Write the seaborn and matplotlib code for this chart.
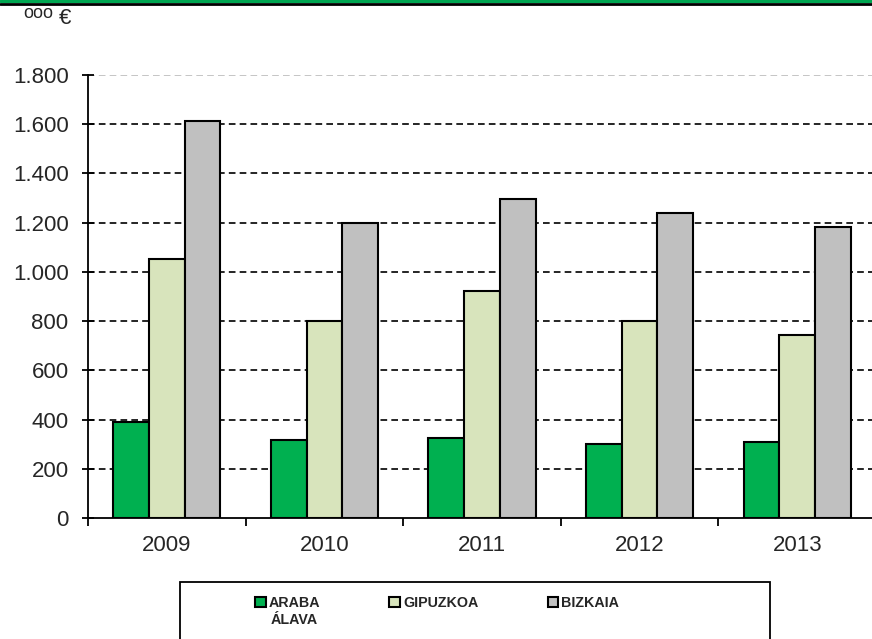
import matplotlib
matplotlib.use("Agg")
import matplotlib.pyplot as plt
import seaborn as sns
import pandas as pd
from matplotlib.ticker import FuncFormatter, FixedLocator
from matplotlib.patches import Rectangle
from matplotlib.lines import Line2D

years = ["2009", "2010", "2011", "2012", "2013"]
araba = [390, 317, 325, 300, 309]
gipuzkoa = [1052, 800, 922, 800, 744]
bizkaia = [1613, 1199, 1296, 1239, 1182]
series_names = ["ARABA", "GIPUZKOA", "BIZKAIA"]
araba_second_line = "ÁLAVA"
colors = ["#00B050", "#D8E4BC", "#C0C0C0"]
yticks = [0, 200, 400, 600, 800, 1000, 1200, 1400, 1600, 1800]

rows = []
for name, vals in zip(series_names, [araba, gipuzkoa, bizkaia]):
    for y, v in zip(years, vals):
        rows.append({"year": y, "region": name, "value": v})
df = pd.DataFrame(rows)

sns.set_theme(style="white")
plt.rcParams["font.family"] = ["Liberation Sans", "DejaVu Sans"]

fig = plt.figure(figsize=(8.72, 6.39), dpi=100)
ax = fig.add_axes([88 / 872, 1 - 518 / 639, 788 / 872, 443 / 639])

sns.barplot(data=df, x="year", y="value", hue="region", palette=colors,
            width=0.68, edgecolor="black", linewidth=1.5, saturation=1,
            ax=ax, legend=True, zorder=3)

ax.set_xlim(-0.5, 4.5)
ax.set_ylim(0, 1800)
ax.set_yticks(yticks)
ax.yaxis.set_major_formatter(FuncFormatter(lambda v, p: f"{int(v):,}".replace(",", ".")))
ax.set_xlabel("")
ax.set_ylabel("")

ax.yaxis.grid(True, color="black", linestyle=(0, (4, 2.5)), linewidth=1.2, zorder=0)
ax.xaxis.grid(False)
ax.set_axisbelow(True)
gl = ax.get_ygridlines()
gl[-1].set_color("#BBBBBB")
gl[0].set_visible(False)

for s in ["top", "right"]:
    ax.spines[s].set_visible(False)
for s in ["left", "bottom"]:
    ax.spines[s].set_color("black")
    ax.spines[s].set_linewidth(1.3)

ax.tick_params(axis="y", direction="inout", length=8, width=1.3, color="black",
               labelsize=16, pad=10, left=True)
ax.tick_params(axis="x", which="major", length=0, labelsize=16, pad=12)
ax.xaxis.set_minor_locator(FixedLocator([-0.5, 0.5, 1.5, 2.5, 3.5, 4.5]))
ax.tick_params(axis="x", which="minor", direction="out", length=6, width=1.3,
               color="black", bottom=True)

handles, labels = ax.get_legend_handles_labels()
ax.legend_.remove()
leg = fig.legend(handles, labels, loc="upper left",
                 bbox_to_anchor=(255 / 872, 1 - 596 / 639), ncol=3,
                 frameon=False, prop={"weight": "bold", "size": 10.3},
                 handlelength=0.75, handleheight=0.75, handletextpad=0.2,
                 columnspacing=4.85, borderpad=0, borderaxespad=0)

fig.canvas.draw()
bb = leg.get_texts()[0].get_window_extent()
fig.text(bb.x0 + 2, bb.y0 - 17, araba_second_line, fontsize=10.3, fontweight="bold",
         transform=None, ha="left", va="bottom")

fig.add_artist(Rectangle((180 / 872, -0.05), 590 / 872, 0.05 + 57 / 639,
                         transform=fig.transFigure, facecolor="none",
                         edgecolor="black", linewidth=1.3))

fig.add_artist(Line2D([0, 1], [1 - 1 / 639, 1 - 1 / 639], transform=fig.transFigure,
                      color="#00A651", linewidth=2.2))
fig.add_artist(Line2D([0, 1], [1 - 3.5 / 639, 1 - 3.5 / 639], transform=fig.transFigure,
                      color="black", linewidth=2.0))

fig.text(23 / 872, 1 - 13 / 639, "ooo", fontsize=13, va="center", ha="left")
fig.text(59 / 872, 1 - 19 / 639, "€", fontsize=16, va="center", ha="left")

fig.savefig("out.png", dpi=100)
